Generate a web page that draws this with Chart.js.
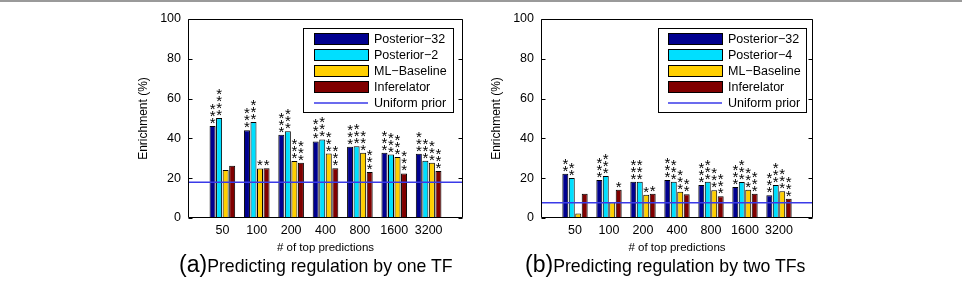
<!DOCTYPE html>
<html>
<head>
<meta charset="utf-8">
<script src="https://cdn.jsdelivr.net/npm/chart.js@4.4.1/dist/chart.umd.min.js"></script>
<style>
  html, body { margin: 0; padding: 0; background: #fff; }
  body { width: 962px; height: 282px; position: relative; overflow: hidden; font-family: 'Liberation Sans', Arial, Helvetica, sans-serif; }
  #topline { position: absolute; left: 0; top: 0; width: 962px; height: 2px; background: #9a9a9a; }
  .cv { position: absolute; top: 0; }
  .cap { position: absolute; top: 252px; line-height: 24px; white-space: nowrap; color: #000; font-size: 23px; }
  .cap span { font-size: 17.7px; }
</style>
</head>
<body>
<div id="topline"></div>
<div class="cv" style="left:120px;width:360px;height:256px;"><canvas id="chartA"></canvas></div>
<div class="cv" style="left:473px;width:360px;height:256px;"><canvas id="chartB"></canvas></div>
<div class="cap" style="left:179px;">(a)<span>Predicting regulation by one TF</span></div>
<div class="cap" style="left:525px;">(b)<span>Predicting regulation by two TFs</span></div>
<script>
// ---- data ----
const categories = ['50', '100', '200', '400', '800', '1600', '3200'];
const yTicks = [0, 20, 40, 60, 80, 100];

const seriesNamesA = ['Posterior\u221232', 'Posterior\u22122', 'ML\u2212Baseline', 'Inferelator'];
const seriesNamesB = ['Posterior\u221232', 'Posterior\u22124', 'ML\u2212Baseline', 'Inferelator'];
const lineName = 'Uniform prior';

const aPosterior32 = [46.2, 44.1, 41.8, 38.5, 35.8, 32.8, 32.3];
const aPosterior2  = [50.2, 48.2, 43.6, 39.5, 36.1, 31.9, 28.8];
const aMLBaseline  = [24.1, 24.9, 28.6, 32.4, 32.8, 30.6, 27.8];
const aInferelator = [26.3, 25.0, 27.8, 25.0, 23.1, 22.4, 23.6];
const aUniform = 18;

const bPosterior32 = [22.2, 19.1, 18.2, 19.1, 16.6, 15.6, 11.4];
const bPosterior4  = [20.1, 21.1, 18.2, 18.2, 18.2, 18.1, 16.6];
const bMLBaseline  = [2.3, 7.9, 11.7, 13.2, 13.9, 14.2, 13.5];
const bInferelator = [12.2, 14.2, 12.2, 11.9, 10.9, 12.2, 9.7];
const bUniform = 7.7;

// number of significance stars above each bar
const aStarsP32 = [3, 3, 3, 3, 3, 3, 3];
const aStarsP2  = [4, 3, 3, 3, 3, 3, 3];
const aStarsML  = [0, 1, 3, 3, 3, 3, 3];
const aStarsInf = [0, 1, 3, 3, 3, 3, 3];
const bStarsP32 = [2, 3, 3, 3, 3, 3, 3];
const bStarsP4  = [2, 3, 3, 3, 3, 3, 3];
const bStarsML  = [0, 0, 1, 3, 3, 3, 3];
const bStarsInf = [0, 1, 1, 2, 3, 3, 3];

// ---- styles ----
const colors = ['#00008f', '#00dfff', '#ffcf00', '#800000'];
const lineColor = '#3a3ae8';
const FONT = "'Liberation Sans', Arial, Helvetica, sans-serif";
const STAR_SIZE = 15;

const pad = arr => [null, ...arr, null];
const paddedLabels = ['', ...categories, ''];

const framePlugin = {
  id: 'frame',
  afterDatasetsDraw(chart, args, opts) {
    const { ctx, chartArea: ca, scales } = chart;
    ctx.save();
    // stars
    ctx.fillStyle = '#000';
    ctx.font = STAR_SIZE + 'px ' + FONT;
    ctx.textAlign = 'center';
    ctx.textBaseline = 'alphabetic';
    chart.data.datasets.forEach((ds, di) => {
      if (!ds.stars) return;
      const meta = chart.getDatasetMeta(di);
      meta.data.forEach((el, j) => {
        const n = ds.stars[j - 1];
        if (!n || ds.data[j] == null) return;
        for (let k = 0; k < n; k++) {
          const cy = el.y - 6.5 - k * 7;
          ctx.fillText('*', el.x, cy + 0.57 * STAR_SIZE);
        }
      });
    });
    // frame
    ctx.strokeStyle = '#000';
    ctx.lineWidth = 1;
    const L = Math.round(ca.left) + 0.5, R = Math.round(ca.right) - 0.5;
    const T = Math.round(ca.top) + 0.5, B = Math.round(ca.bottom) - 0.5;
    ctx.beginPath();
    ctx.rect(L, T, R - L, B - T);
    yTicks.forEach(v => {
      const y = Math.round(scales.y.getPixelForValue(v)) + 0.5;
      ctx.moveTo(L, y); ctx.lineTo(L + 4, y);
      ctx.moveTo(R, y); ctx.lineTo(R - 4, y);
    });
    ctx.stroke();
    // legend
    const lg = opts.legend;
    const bx = lg.left + 0.5, by = lg.top + 0.5;
    ctx.fillStyle = '#fff';
    ctx.fillRect(bx, by, lg.width, lg.height);
    ctx.strokeStyle = '#000';
    ctx.lineWidth = 1;
    ctx.strokeRect(bx, by, lg.width, lg.height);
    ctx.font = '12.5px ' + FONT;
    ctx.textAlign = 'left';
    ctx.textBaseline = 'middle';
    const entries = chart.data.datasets.filter(d => d.type !== 'line').concat(chart.data.datasets.filter(d => d.type === 'line'));
    entries.forEach((ds, i) => {
      const cy = lg.top + 11 + i * 16;
      const sx = lg.left + lg.swatchX;
      if (ds.type === 'line') {
        ctx.strokeStyle = lineColor;
        ctx.lineWidth = 1.5;
        ctx.beginPath();
        ctx.moveTo(sx, cy); ctx.lineTo(sx + 54, cy);
        ctx.stroke();
      } else {
        ctx.fillStyle = ds.backgroundColor;
        ctx.fillRect(sx + 0.5, cy - 5.5, 54, 11);
        ctx.strokeStyle = '#000';
        ctx.lineWidth = 1;
        ctx.strokeRect(sx + 0.5, cy - 5.5, 54, 11);
      }
      ctx.fillStyle = '#000';
      ctx.fillText(ds.label, lg.left + lg.textX, cy + 1);
    });
    ctx.restore();
  }
};

function makeChart(id, names, series, stars, uniform, legendPos, rightPad) {
  const datasets = [{
    type: 'line', label: lineName, data: paddedLabels.map(() => uniform),
    borderColor: lineColor, borderWidth: 1.6, pointRadius: 0, order: -1, fill: false
  }];
  series.forEach((vals, i) => {
    datasets.push({
      type: 'bar', label: names[i], data: pad(vals), stars: stars[i],
      backgroundColor: colors[i], borderColor: '#000', borderWidth: 1,
      categoryPercentage: 0.76, barPercentage: 0.92, order: 1
    });
  });
  return new Chart(document.getElementById(id), {
    data: { labels: paddedLabels, datasets },
    options: {
      responsive: true, maintainAspectRatio: false, animation: false,
      layout: { padding: { left: 0, right: rightPad, top: 19, bottom: 0 } },
      plugins: { legend: { display: false }, tooltip: { enabled: false }, frame: { legend: legendPos } },
      scales: {
        x: {
          type: 'category', offset: false,
          grid: { display: false, drawTicks: false }, border: { display: false },
          ticks: { autoSkip: false, maxRotation: 0, padding: 5, color: '#000', font: { family: FONT, size: 12.5 } },
          title: { display: true, text: '# of top predictions', color: '#000', font: { family: FONT, size: 11.5 }, padding: { top: 0, bottom: 1 } },
          afterFit(s) { s.height = 38; }
        },
        y: {
          min: 0, max: 100,
          grid: { display: false, drawTicks: false }, border: { display: false },
          ticks: { stepSize: 20, padding: 7, color: '#000', font: { family: FONT, size: 12.5 } },
          title: { display: true, text: 'Enrichment (%)', color: '#000', font: { family: FONT, size: 12 }, padding: { top: 16, bottom: 0 } },
          afterFit(s) { s.width = 68; }
        }
      }
    },
    plugins: [framePlugin]
  });
}

makeChart('chartA', seriesNamesA,
  [aPosterior32, aPosterior2, aMLBaseline, aInferelator],
  [aStarsP32, aStarsP2, aStarsML, aStarsInf], aUniform,
  { left: 183, top: 28, width: 150, height: 84, swatchX: 11, textX: 71 }, 17);

makeChart('chartB', seriesNamesB,
  [bPosterior32, bPosterior4, bMLBaseline, bInferelator],
  [bStarsP32, bStarsP4, bStarsML, bStarsInf], bUniform,
  { left: 185, top: 28, width: 148, height: 84, swatchX: 10, textX: 70 }, 20);
</script>
</body>
</html>
